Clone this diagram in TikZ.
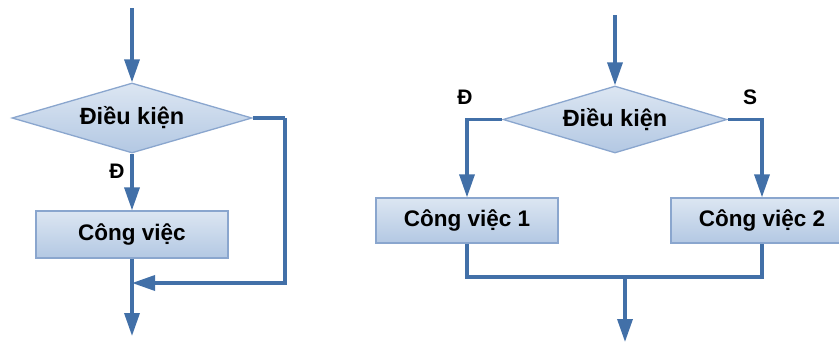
\documentclass[tikz,border=0pt]{standalone}
\usepackage{fontspec}
\setmainfont{Liberation Sans}
\usetikzlibrary{shapes.geometric,arrows.meta}
\definecolor{lineblue}{HTML}{4270A8}
\definecolor{boxtop}{HTML}{DCE6F2}
\definecolor{boxbot}{HTML}{B3C8E3}
\definecolor{boxedge}{HTML}{8AA6CE}
\tikzset{
  flow/.style={draw=lineblue, line width=3.4pt},
  arr/.style={flow, -{Triangle[length=23pt,width=15pt]}},
  cond/.style={diamond, draw=boxedge, line width=1.3pt, top color=boxtop, bottom color=boxbot,
    inner sep=0pt, font=\bfseries\fontsize{23.5}{26}\selectfont},
  task/.style={rectangle, draw=boxedge, line width=1.3pt, top color=boxtop, bottom color=boxbot,
    inner sep=0pt, font=\bfseries\fontsize{22.5}{26}\selectfont},
  lbl/.style={font=\bfseries\fontsize{21}{23}\selectfont, inner sep=0pt}
}
\begin{document}
\begin{tikzpicture}[x=1pt,y=-1pt]
\useasboundingbox (0,0) rectangle (839,343);
% left diagram
\coordinate (ls) at (132,8);
\node[cond, minimum width=240pt, minimum height=70pt, aspect=3.4] (d1) at (132,118) {Điều kiện};
\node[task, minimum width=192pt, minimum height=47pt] (c1) at (132,234.5) {Công việc};
\node[lbl] (t1) at (117,171) {Đ};
\coordinate (r1) at (285,118);
\coordinate (j1) at (132,283);
\coordinate (le) at (132,336);
\draw[arr] (ls) -- (d1.north);
\draw[arr] (d1.south) -- (c1.north);
\draw[flow] (d1.east) -- (r1);
\draw[arr] (r1) |- (j1);
\draw[arr] (c1.south) -- (le);
% right diagram
\coordinate (rs) at (615,15);
\node[cond, minimum width=224pt, minimum height=67pt, aspect=3.34] (d2) at (615,119.5) {Điều kiện};
\node[task, minimum width=182pt, minimum height=45pt] (c2a) at (467,220.5) {Công việc 1};
\node[task, minimum width=182pt, minimum height=45pt] (c2b) at (762,220.5) {Công việc 2};
\node[lbl] (t2) at (465,97) {Đ};
\node[lbl] (t3) at (750,97) {S};
\coordinate (m) at (625,277);
\coordinate (re) at (625,342);
\draw[arr] (rs) -- (d2.north);
\draw[arr] (d2.west) -| (c2a.north);
\draw[arr] (d2.east) -| (c2b.north);
\draw[flow] (c2a.south) -- (c2a.south |- m) -- (c2b.south |- m) -- (c2b.south);
\draw[arr] (m) -- (re);
\end{tikzpicture}
\end{document}
